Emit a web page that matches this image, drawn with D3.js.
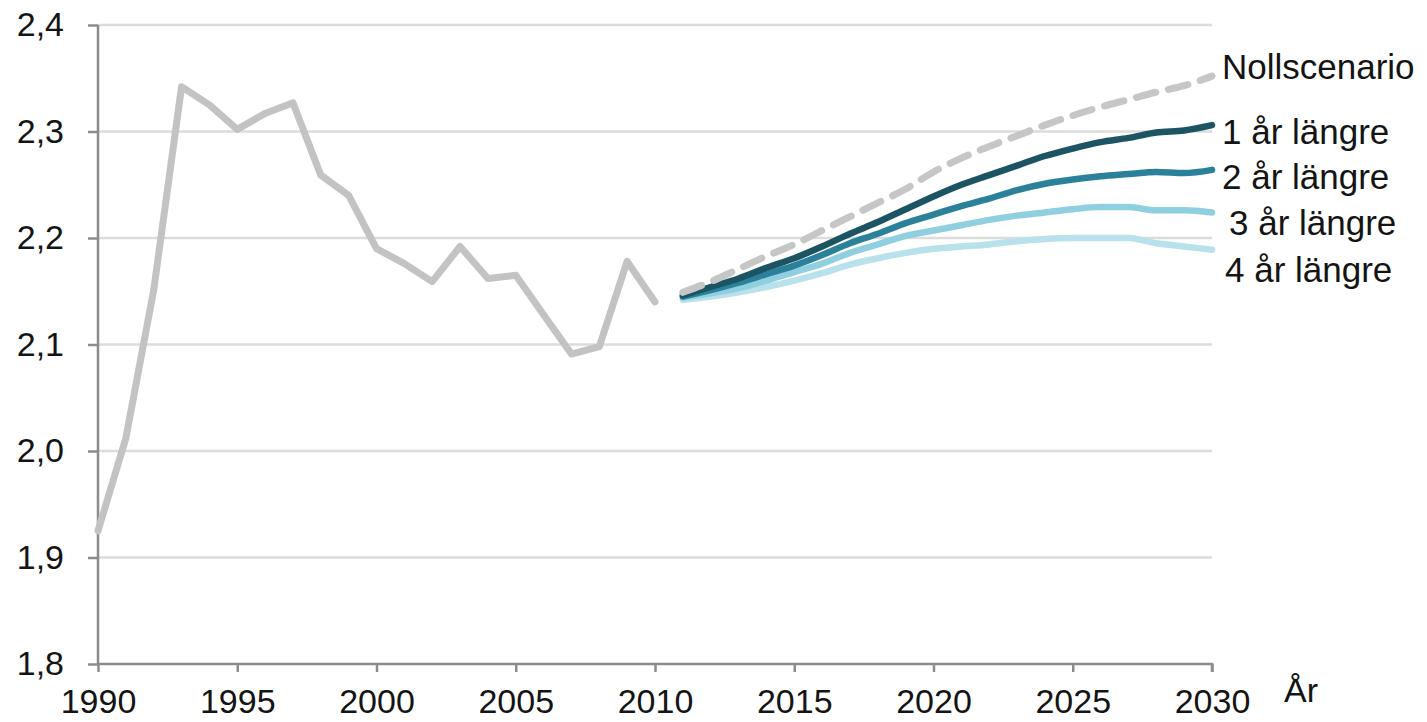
<!DOCTYPE html>
<html>
<head>
<meta charset="utf-8">
<script src="https://cdn.jsdelivr.net/npm/d3@7"></script>
<style>
  body { margin: 0; background: #fff; }
  svg text { font-family: "Liberation Sans", Arial, sans-serif; fill: #141414; }
</style>
</head>
<body>
<div id="chart"></div>
<script>
// historic values 1990-2010
const histYears = d3.range(1990, 2011);
const histValues = [1.925, 2.012, 2.151, 2.342, 2.325, 2.302, 2.317, 2.327, 2.259, 2.240,
  2.190, 2.176, 2.159, 2.192, 2.162, 2.165, 2.128, 2.091, 2.098, 2.178, 2.140];

// scenarios 2011-2030
const projYears = d3.range(2011, 2031);
const nollValues = [2.149, 2.159, 2.171, 2.183, 2.194, 2.207, 2.220, 2.233, 2.246, 2.262,
  2.275, 2.286, 2.296, 2.306, 2.315, 2.323, 2.330, 2.337, 2.343, 2.352];
const ar1Values = [2.146, 2.154, 2.162, 2.172, 2.181, 2.192, 2.204, 2.215, 2.227, 2.239,
  2.250, 2.259, 2.268, 2.277, 2.284, 2.290, 2.294, 2.299, 2.301, 2.306];
const ar2Values = [2.145, 2.151, 2.158, 2.166, 2.174, 2.184, 2.195, 2.204, 2.214, 2.222,
  2.230, 2.237, 2.245, 2.251, 2.255, 2.258, 2.260, 2.262, 2.261, 2.264];
const ar3Values = [2.144, 2.148, 2.153, 2.160, 2.168, 2.176, 2.186, 2.194, 2.202, 2.207,
  2.212, 2.217, 2.221, 2.224, 2.227, 2.229, 2.229, 2.226, 2.226, 2.224];
const ar4Values = [2.142, 2.145, 2.149, 2.154, 2.160, 2.167, 2.175, 2.181, 2.186, 2.190,
  2.192, 2.194, 2.197, 2.199, 2.200, 2.200, 2.200, 2.195, 2.192, 2.189];

const xTicks = [1990, 1995, 2000, 2005, 2010, 2015, 2020, 2025, 2030];
const yTicks = [1.8, 1.9, 2.0, 2.1, 2.2, 2.3, 2.4];

const series = [
  { name: "4 år längre", values: ar4Values, color: "#b9e1eb", dx: 13, dy: 20 },
  { name: "3 år längre", values: ar3Values, color: "#8fcfe0", dx: 17, dy: 10 },
  { name: "2 år längre", values: ar2Values, color: "#2b8199", dx: 10, dy: 7 },
  { name: "1 år längre", values: ar1Values, color: "#1c5464", dx: 10, dy: 7 },
];

const margin = { top: 25, right: 215, bottom: 58, left: 98 };
const W = 1427, H = 722;
const width = W - margin.left - margin.right;
const height = H - margin.top - margin.bottom;
const fs = 35;
const axisFs = 34;

const svg = d3.select("#chart").append("svg")
  .attr("width", W).attr("height", H)
  .append("g")
  .attr("transform", `translate(${margin.left},${margin.top})`);

const x = d3.scaleLinear().domain([1990, 2030]).range([0, width]);
const y = d3.scaleLinear().domain([1.8, 2.4]).range([height, 0]);

// grid lines
svg.append("g")
  .selectAll("line")
  .data(yTicks.slice(1))
  .join("line")
  .attr("x1", 0).attr("x2", width)
  .attr("y1", d => y(d)).attr("y2", d => y(d))
  .attr("stroke", "#dcdcdc").attr("stroke-width", 2.5);

// axes
const yAxis = svg.append("g")
  .call(d3.axisLeft(y).tickValues(yTicks).tickSize(10).tickPadding(24)
    .tickFormat(d => d3.format(".1f")(d).replace(".", ",")));
const xAxis = svg.append("g")
  .attr("transform", `translate(0,${height})`)
  .call(d3.axisBottom(x).tickValues(xTicks).tickSize(8).tickPadding(17).tickFormat(d3.format("d")));

[yAxis, xAxis].forEach(a => {
  a.select(".domain").attr("stroke", "#8c8c8c").attr("stroke-width", 2.5);
  a.selectAll(".tick line").attr("stroke", "#8c8c8c").attr("stroke-width", 2.5);
  a.selectAll("text").attr("font-size", axisFs).attr("fill", "#141414")
    .attr("font-family", "Liberation Sans, Arial, sans-serif");
});
xAxis.select(".domain").attr("d", `M0,0H${width}V8`);
yAxis.select(".domain").attr("d", `M0,0V${height}`);

// historic line
const line = d3.line().x(d => x(d[0])).y(d => y(d[1]));
svg.append("path")
  .datum(histYears.map((yr, i) => [yr, histValues[i]]))
  .attr("fill", "none").attr("stroke", "#c3c3c3").attr("stroke-width", 7)
  .attr("stroke-linejoin", "round").attr("stroke-linecap", "round")
  .attr("d", line);

const smooth = d3.line().x(d => x(d[0])).y(d => y(d[1])).curve(d3.curveMonotoneX);

// scenario lines
series.forEach(s => {
  const pts = projYears.map((yr, i) => [yr, s.values[i]]);
  svg.append("path").datum(pts)
    .attr("fill", "none").attr("stroke", s.color).attr("stroke-width", 6.5)
    .attr("stroke-linecap", "round").attr("stroke-linejoin", "round")
    .attr("d", smooth);
  svg.append("text")
    .attr("x", x(2030) + s.dx).attr("y", y(s.values[s.values.length - 1]) + s.dy)
    .attr("dy", "0.35em").attr("font-size", fs).text(s.name);
});

// nollscenario dashed
const nollPts = projYears.map((yr, i) => [yr, nollValues[i]]);
svg.append("path").datum(nollPts)
  .attr("fill", "none").attr("stroke", "#c6c6c6").attr("stroke-width", 7)
  .attr("stroke-dasharray", "20,13").attr("stroke-linecap", "round")
  .attr("d", smooth);
svg.append("text")
  .attr("x", x(2030) + 10).attr("y", y(nollValues[nollValues.length - 1]) - 9)
  .attr("dy", "0.35em").attr("font-size", fs).text("Nollscenario");

// axis title
svg.append("text")
  .attr("x", x(2030) + 72).attr("y", height + 26)
  .attr("dy", "0.35em").attr("font-size", axisFs).text("År");
</script>
</body>
</html>
